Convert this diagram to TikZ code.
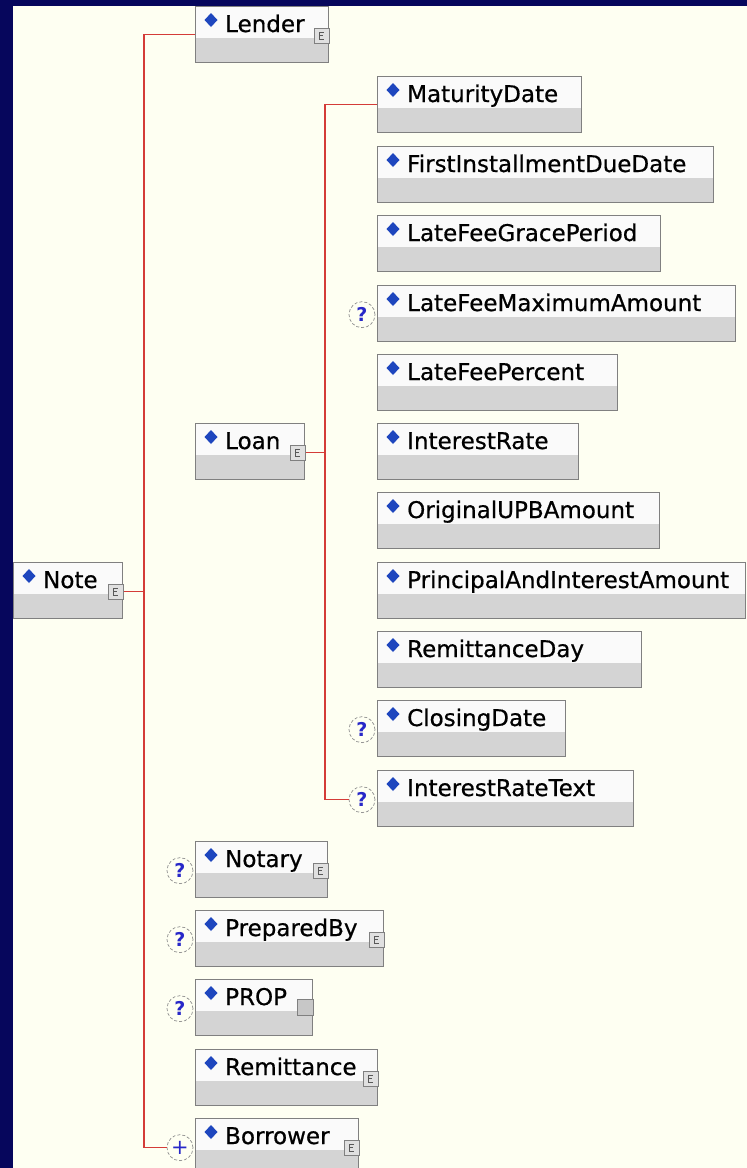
\documentclass[tikz,border=0pt]{standalone}
\usepackage{fontspec}
\setmainfont{DejaVu Sans}
\newfontfamily\lblface{DejaVu Sans}[FakeBold=0.6]
\usetikzlibrary{calc}
\definecolor{navy}{RGB}{6,6,92}
\definecolor{cream}{RGB}{254,255,242}
\definecolor{wirered}{RGB}{212,60,56}
\definecolor{boxline}{RGB}{128,128,128}
\definecolor{boxtop}{RGB}{250,250,250}
\definecolor{boxbot}{RGB}{212,212,212}
\definecolor{diam}{RGB}{30,70,190}
\definecolor{qblue}{RGB}{40,40,200}
\newcommand\lblfont{\lblface\fontsize{23}{23}\selectfont}
\newcommand\qfont{\fontsize{19}{19}\selectfont\bfseries}
\newcommand\pfont{\fontsize{21}{21}\selectfont}
\tikzset{
  elbox/.style={draw=boxline, line width=1.3pt, fill=boxtop, minimum height=56pt,
    inner sep=0pt, anchor=north west,
    path picture={\fill[boxbot] ([yshift=-31pt]path picture bounding box.north west)
      rectangle (path picture bounding box.south east);}},
  lbl/.style={anchor=base west, inner sep=0pt, font=\lblfont, text=black},
  cicon/.style={draw=boxline, line width=0.9pt, fill=black!12, minimum size=15pt, inner sep=0pt},
  picon/.style={draw=boxline, line width=0.9pt, fill=black!22, minimum size=16pt, inner sep=0pt},
  glyph/.style={line width=0.7pt, draw=black!65},
  qcirc/.style={circle, minimum size=26pt, inner sep=0pt, draw=black!45, densely dashed,
    line width=0.7pt, fill=cream, text=qblue},
  wire/.style={draw=wirered, line width=1.5pt}
}
\newcommand\elem[6]{%
  \node[elbox, minimum width=#4pt] (#1) at (#2,#3) {};
  \fill[diam] ($(#1.north west)+(16,7)$) -- ++(6.5,7) -- ++(-6.5,7) -- ++(-6.5,-7) -- cycle;
  \node[lbl] (#1-t) at ($(#1.north west)+(30,26)$) {#5};
  \ifcase#6\or
    \node[cicon] (#1-i) at ($(#1.north east)+(-7.5,29.5)$) {};
    \draw[glyph] ($(#1-i.center)+(2,-3.5)$) -- ++(-4,0) -- ++(0,7) -- ++(4,0);
    \draw[glyph] ($(#1-i.center)+(-2,0)$) -- ++(3,0);
  \or
    \node[picon] (#1-i) at ($(#1.north east)+(-8,28)$) {};
  \fi}
\newcommand\qmark[2]{\node[qcirc, font=\qfont] (#1-q) at ($(#1.west)+(-15,1)$) {#2};}
\newcommand\pmark[1]{\node[qcirc, font=\pfont] (#1-q) at ($(#1.west)+(-15,1)$) {+};}
\begin{document}
\begin{tikzpicture}[x=1pt,y=-1pt]
\clip (0,0) rectangle (747,1168);
\fill[navy] (0,0) rectangle (747,1168);
\fill[cream] (13,6) rectangle (747,1168);
% top level
\elem{note}{13}{562}{109}{Note}{1}
\elem{lender}{195}{6}{133}{Lender}{1}
\elem{loan}{195}{423}{109}{Loan}{1}
\elem{notary}{195}{841}{132}{Notary}{1}
\elem{prep}{195}{910}{188}{PreparedBy}{1}
\elem{prop}{195}{979}{117}{PROP}{2}
\elem{remit}{195}{1049}{182}{Remittance}{1}
\elem{borrower}{195}{1118}{163}{Borrower}{1}
% loan children
\elem{md}{377}{76}{204}{MaturityDate}{0}
\elem{fid}{377}{146}{336}{FirstInstallmentDueDate}{0}
\elem{lfg}{377}{215}{283}{LateFeeGracePeriod}{0}
\elem{lfm}{377}{285}{358}{LateFeeMaximumAmount}{0}
\elem{lfp}{377}{354}{240}{LateFeePercent}{0}
\elem{ir}{377}{423}{201}{InterestRate}{0}
\elem{oupb}{377}{492}{282}{OriginalUPBAmount}{0}
\elem{pia}{377}{562}{368}{PrincipalAndInterestAmount}{0}
\elem{rd}{377}{631}{264}{RemittanceDay}{0}
\elem{cd}{377}{700}{188}{ClosingDate}{0}
\elem{irt}{377}{770}{256}{InterestRateText}{0}
% occurrence markers
\qmark{lfm}{?}
\qmark{cd}{?}
\qmark{irt}{?}
\qmark{notary}{?}
\qmark{prep}{?}
\qmark{prop}{?}
\pmark{borrower}
% connectors
\coordinate (s1) at (144,0);
\coordinate (s2) at (325,0);
\draw[wire] (lender.west) -- (lender.west -| s1) -- (borrower-q.west -| s1) -- (borrower-q.west);
\draw[wire] (note-i.east) -- (note-i.east -| s1);
\draw[wire] (loan-i.east) -- (loan-i.east -| s2);
\draw[wire] (md.west) -- (md.west -| s2) -- (irt-q.west -| s2) -- (irt-q.west);
\end{tikzpicture}
\end{document}
